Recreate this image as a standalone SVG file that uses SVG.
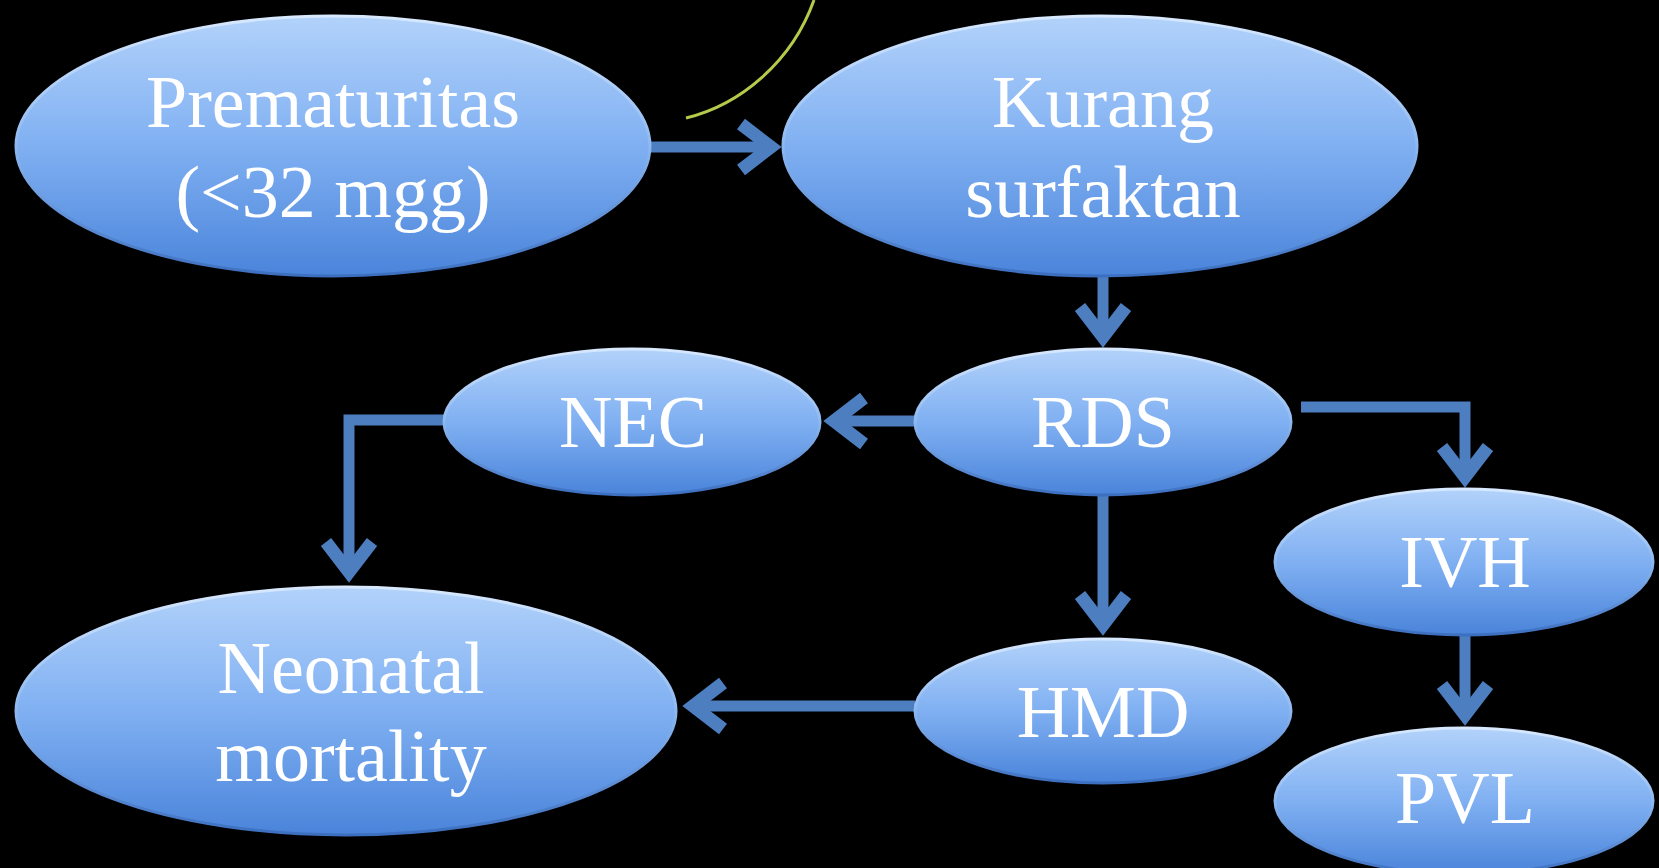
<svg xmlns="http://www.w3.org/2000/svg" width="1659" height="868" viewBox="0 0 1659 868">
<style>
.node ellipse{fill:url(#g);stroke:url(#rim);stroke-width:3}
.node text{font-family:"Liberation Serif","Times New Roman",serif;font-size:74px;fill:#ffffff;text-anchor:middle}
.conn path{fill:none;stroke:#4d7ec0;stroke-width:11;stroke-linejoin:miter}
</style>
<defs>
<linearGradient id="g" x1="0" y1="0" x2="0" y2="1">
<stop offset="0" stop-color="#b2d2fa"/>
<stop offset="0.5" stop-color="#80b0f2"/>
<stop offset="1" stop-color="#4a84da"/>
</linearGradient>
<linearGradient id="rim" x1="0" y1="0" x2="0" y2="1">
<stop offset="0" stop-color="#d8e9ff"/>
<stop offset="0.5" stop-color="#8db8f0"/>
<stop offset="1" stop-color="#3c6fc0"/>
</linearGradient>
<marker id="ah" markerUnits="userSpaceOnUse" orient="auto" refX="0" refY="0" markerWidth="80" markerHeight="80" overflow="visible">
<path d="M -30 -23 L 0 0 L -30 23" fill="none" stroke="#4d7ec0" stroke-width="13" stroke-linejoin="miter"/>
</marker>
</defs>
<rect width="1659" height="868" fill="#000000"/>
<path d="M 686 118 C 740 105 792 62 814 0" fill="none" stroke="#b5c94a" stroke-width="3"/>
<g class="conn">
<path d="M 651 147 L 771 147" marker-end="url(#ah)"/>
<path d="M 1103 277 L 1103 337" marker-end="url(#ah)"/>
<path d="M 915 421 L 834 421" marker-end="url(#ah)"/>
<path d="M 444 420 L 349 420 L 349 572" marker-end="url(#ah)"/>
<path d="M 1103 495 L 1103 625" marker-end="url(#ah)"/>
<path d="M 915 706 L 693 706" marker-end="url(#ah)"/>
<path d="M 1301 407 L 1465 407 L 1465 477" marker-end="url(#ah)"/>
<path d="M 1465 635 L 1465 715" marker-end="url(#ah)"/>
</g>
<g id="premat" class="node"><ellipse cx="333" cy="146" rx="317" ry="130"/><text x="333" y="127">Prematuritas</text><text x="333" y="217">(&lt;32 mgg)</text></g>
<g id="kurang" class="node"><ellipse cx="1100" cy="146" rx="317" ry="130"/><text x="1103" y="127">Kurang</text><text x="1103" y="217">surfaktan</text></g>
<g id="nec" class="node"><ellipse cx="632" cy="422" rx="188" ry="73"/><text x="633" y="447">NEC</text></g>
<g id="rds" class="node"><ellipse cx="1103" cy="422" rx="188" ry="73"/><text x="1103" y="447">RDS</text></g>
<g id="neonatal" class="node"><ellipse cx="346" cy="711" rx="330" ry="124"/><text x="351" y="693">Neonatal</text><text x="351" y="781">mortality</text></g>
<g id="hmd" class="node"><ellipse cx="1103" cy="711" rx="188" ry="72"/><text x="1103" y="737">HMD</text></g>
<g id="ivh" class="node"><ellipse cx="1464" cy="562" rx="189" ry="73"/><text x="1465" y="587">IVH</text></g>
<g id="pvl" class="node"><ellipse cx="1464" cy="801" rx="189" ry="73"/><text x="1465" y="823">PVL</text></g>
</svg>
